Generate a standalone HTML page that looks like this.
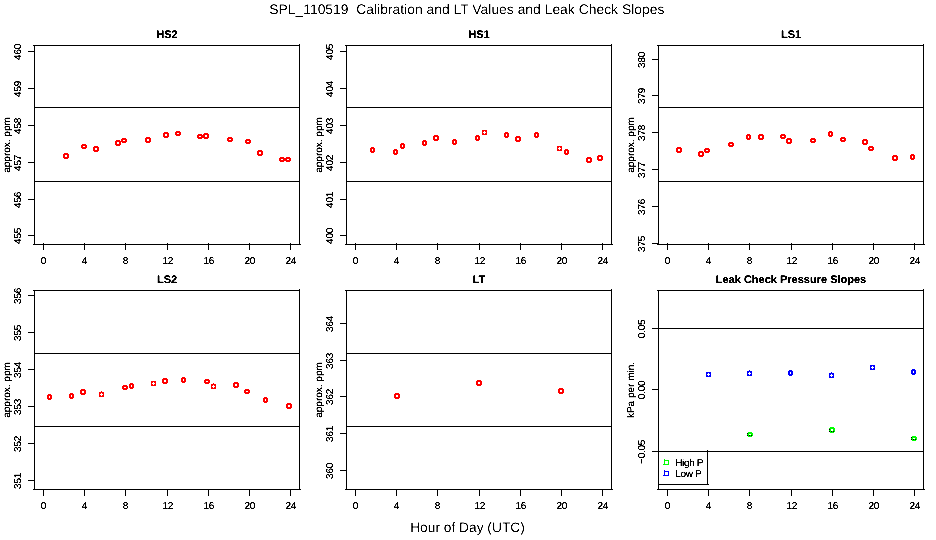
<!DOCTYPE html>
<html><head><meta charset="utf-8"><title>SPL_110519 Calibration</title>
<style>
html,body{margin:0;padding:0;background:#fff;}
body{width:936px;height:540px;overflow:hidden;}
svg{display:block;will-change:transform;text-rendering:geometricPrecision;font-family:"Liberation Sans", sans-serif;fill:#000;}
</style></head><body>
<svg width="936" height="540" viewBox="0 0 936 540">
<defs><filter id="bw" x="0" y="0" width="100%" height="100%" filterUnits="userSpaceOnUse" primitiveUnits="userSpaceOnUse" color-interpolation-filters="sRGB"><feComponentTransfer><feFuncA type="linear" slope="3" intercept="-0.55"/></feComponentTransfer></filter><filter id="bw2" x="0" y="0" width="100%" height="100%" filterUnits="userSpaceOnUse" primitiveUnits="userSpaceOnUse" color-interpolation-filters="sRGB"><feComponentTransfer><feFuncA type="linear" slope="2.6" intercept="-0.85"/></feComponentTransfer></filter></defs>
<rect width="936" height="540" fill="#fff"/>
<g shape-rendering="crispEdges">
<rect x="34.5" y="45.5" width="265" height="199" fill="none" stroke="#000"/>
<rect x="33" y="45" width="1" height="1" fill="#000"/>
<rect x="299" y="44" width="1" height="1" fill="#000"/>
<rect x="300" y="244" width="1" height="1" fill="#000"/>
<rect x="33" y="244" width="1" height="1" fill="#000"/>
<line x1="34" y1="107.5" x2="300" y2="107.5" stroke="#000" stroke-width="1"/>
<line x1="34" y1="181.5" x2="300" y2="181.5" stroke="#000" stroke-width="1"/>
<line x1="28" y1="51.5" x2="34" y2="51.5" stroke="#000" stroke-width="1"/>
<line x1="28" y1="88.5" x2="34" y2="88.5" stroke="#000" stroke-width="1"/>
<line x1="28" y1="125.5" x2="34" y2="125.5" stroke="#000" stroke-width="1"/>
<line x1="28" y1="162.5" x2="34" y2="162.5" stroke="#000" stroke-width="1"/>
<line x1="28" y1="199.5" x2="34" y2="199.5" stroke="#000" stroke-width="1"/>
<line x1="28" y1="235.5" x2="34" y2="235.5" stroke="#000" stroke-width="1"/>
<line x1="43.5" y1="243" x2="43.5" y2="250" stroke="#000" stroke-width="1"/>
<line x1="84.5" y1="243" x2="84.5" y2="250" stroke="#000" stroke-width="1"/>
<line x1="125.5" y1="243" x2="125.5" y2="250" stroke="#000" stroke-width="1"/>
<line x1="167.5" y1="243" x2="167.5" y2="250" stroke="#000" stroke-width="1"/>
<line x1="208.5" y1="243" x2="208.5" y2="250" stroke="#000" stroke-width="1"/>
<line x1="249.5" y1="243" x2="249.5" y2="250" stroke="#000" stroke-width="1"/>
<line x1="290.5" y1="243" x2="290.5" y2="250" stroke="#000" stroke-width="1"/>
<rect x="346.5" y="45.5" width="265" height="199" fill="none" stroke="#000"/>
<rect x="345" y="45" width="1" height="1" fill="#000"/>
<rect x="611" y="44" width="1" height="1" fill="#000"/>
<rect x="612" y="244" width="1" height="1" fill="#000"/>
<rect x="345" y="244" width="1" height="1" fill="#000"/>
<line x1="346" y1="107.5" x2="612" y2="107.5" stroke="#000" stroke-width="1"/>
<line x1="346" y1="181.5" x2="612" y2="181.5" stroke="#000" stroke-width="1"/>
<line x1="340" y1="51.5" x2="346" y2="51.5" stroke="#000" stroke-width="1"/>
<line x1="340" y1="88.5" x2="346" y2="88.5" stroke="#000" stroke-width="1"/>
<line x1="340" y1="125.5" x2="346" y2="125.5" stroke="#000" stroke-width="1"/>
<line x1="340" y1="162.5" x2="346" y2="162.5" stroke="#000" stroke-width="1"/>
<line x1="340" y1="199.5" x2="346" y2="199.5" stroke="#000" stroke-width="1"/>
<line x1="340" y1="235.5" x2="346" y2="235.5" stroke="#000" stroke-width="1"/>
<line x1="355.5" y1="243" x2="355.5" y2="250" stroke="#000" stroke-width="1"/>
<line x1="396.5" y1="243" x2="396.5" y2="250" stroke="#000" stroke-width="1"/>
<line x1="437.5" y1="243" x2="437.5" y2="250" stroke="#000" stroke-width="1"/>
<line x1="479.5" y1="243" x2="479.5" y2="250" stroke="#000" stroke-width="1"/>
<line x1="520.5" y1="243" x2="520.5" y2="250" stroke="#000" stroke-width="1"/>
<line x1="561.5" y1="243" x2="561.5" y2="250" stroke="#000" stroke-width="1"/>
<line x1="602.5" y1="243" x2="602.5" y2="250" stroke="#000" stroke-width="1"/>
<rect x="658.5" y="45.5" width="265" height="199" fill="none" stroke="#000"/>
<rect x="657" y="45" width="1" height="1" fill="#000"/>
<rect x="923" y="44" width="1" height="1" fill="#000"/>
<rect x="924" y="244" width="1" height="1" fill="#000"/>
<rect x="657" y="244" width="1" height="1" fill="#000"/>
<line x1="658" y1="107.5" x2="924" y2="107.5" stroke="#000" stroke-width="1"/>
<line x1="658" y1="181.5" x2="924" y2="181.5" stroke="#000" stroke-width="1"/>
<line x1="652" y1="59.5" x2="658" y2="59.5" stroke="#000" stroke-width="1"/>
<line x1="652" y1="95.5" x2="658" y2="95.5" stroke="#000" stroke-width="1"/>
<line x1="652" y1="132.5" x2="658" y2="132.5" stroke="#000" stroke-width="1"/>
<line x1="652" y1="169.5" x2="658" y2="169.5" stroke="#000" stroke-width="1"/>
<line x1="652" y1="206.5" x2="658" y2="206.5" stroke="#000" stroke-width="1"/>
<line x1="652" y1="243.5" x2="658" y2="243.5" stroke="#000" stroke-width="1"/>
<line x1="667.5" y1="243" x2="667.5" y2="250" stroke="#000" stroke-width="1"/>
<line x1="708.5" y1="243" x2="708.5" y2="250" stroke="#000" stroke-width="1"/>
<line x1="749.5" y1="243" x2="749.5" y2="250" stroke="#000" stroke-width="1"/>
<line x1="791.5" y1="243" x2="791.5" y2="250" stroke="#000" stroke-width="1"/>
<line x1="832.5" y1="243" x2="832.5" y2="250" stroke="#000" stroke-width="1"/>
<line x1="873.5" y1="243" x2="873.5" y2="250" stroke="#000" stroke-width="1"/>
<line x1="914.5" y1="243" x2="914.5" y2="250" stroke="#000" stroke-width="1"/>
<rect x="34.5" y="290.5" width="265" height="199" fill="none" stroke="#000"/>
<rect x="33" y="290" width="1" height="1" fill="#000"/>
<rect x="299" y="289" width="1" height="1" fill="#000"/>
<rect x="300" y="489" width="1" height="1" fill="#000"/>
<rect x="33" y="489" width="1" height="1" fill="#000"/>
<line x1="34" y1="353.5" x2="300" y2="353.5" stroke="#000" stroke-width="1"/>
<line x1="34" y1="426.5" x2="300" y2="426.5" stroke="#000" stroke-width="1"/>
<line x1="28" y1="295.5" x2="34" y2="295.5" stroke="#000" stroke-width="1"/>
<line x1="28" y1="332.5" x2="34" y2="332.5" stroke="#000" stroke-width="1"/>
<line x1="28" y1="369.5" x2="34" y2="369.5" stroke="#000" stroke-width="1"/>
<line x1="28" y1="406.5" x2="34" y2="406.5" stroke="#000" stroke-width="1"/>
<line x1="28" y1="443.5" x2="34" y2="443.5" stroke="#000" stroke-width="1"/>
<line x1="28" y1="480.5" x2="34" y2="480.5" stroke="#000" stroke-width="1"/>
<line x1="43.5" y1="489" x2="43.5" y2="496" stroke="#000" stroke-width="1"/>
<line x1="84.5" y1="489" x2="84.5" y2="496" stroke="#000" stroke-width="1"/>
<line x1="125.5" y1="489" x2="125.5" y2="496" stroke="#000" stroke-width="1"/>
<line x1="167.5" y1="489" x2="167.5" y2="496" stroke="#000" stroke-width="1"/>
<line x1="208.5" y1="489" x2="208.5" y2="496" stroke="#000" stroke-width="1"/>
<line x1="249.5" y1="489" x2="249.5" y2="496" stroke="#000" stroke-width="1"/>
<line x1="290.5" y1="489" x2="290.5" y2="496" stroke="#000" stroke-width="1"/>
<rect x="346.5" y="290.5" width="265" height="199" fill="none" stroke="#000"/>
<rect x="345" y="290" width="1" height="1" fill="#000"/>
<rect x="611" y="289" width="1" height="1" fill="#000"/>
<rect x="612" y="489" width="1" height="1" fill="#000"/>
<rect x="345" y="489" width="1" height="1" fill="#000"/>
<line x1="346" y1="353.5" x2="612" y2="353.5" stroke="#000" stroke-width="1"/>
<line x1="346" y1="426.5" x2="612" y2="426.5" stroke="#000" stroke-width="1"/>
<line x1="340" y1="323.5" x2="346" y2="323.5" stroke="#000" stroke-width="1"/>
<line x1="340" y1="360.5" x2="346" y2="360.5" stroke="#000" stroke-width="1"/>
<line x1="340" y1="396.5" x2="346" y2="396.5" stroke="#000" stroke-width="1"/>
<line x1="340" y1="433.5" x2="346" y2="433.5" stroke="#000" stroke-width="1"/>
<line x1="340" y1="470.5" x2="346" y2="470.5" stroke="#000" stroke-width="1"/>
<line x1="355.5" y1="489" x2="355.5" y2="496" stroke="#000" stroke-width="1"/>
<line x1="396.5" y1="489" x2="396.5" y2="496" stroke="#000" stroke-width="1"/>
<line x1="437.5" y1="489" x2="437.5" y2="496" stroke="#000" stroke-width="1"/>
<line x1="479.5" y1="489" x2="479.5" y2="496" stroke="#000" stroke-width="1"/>
<line x1="520.5" y1="489" x2="520.5" y2="496" stroke="#000" stroke-width="1"/>
<line x1="561.5" y1="489" x2="561.5" y2="496" stroke="#000" stroke-width="1"/>
<line x1="602.5" y1="489" x2="602.5" y2="496" stroke="#000" stroke-width="1"/>
<rect x="658.5" y="290.5" width="265" height="199" fill="none" stroke="#000"/>
<rect x="657" y="290" width="1" height="1" fill="#000"/>
<rect x="923" y="289" width="1" height="1" fill="#000"/>
<rect x="924" y="489" width="1" height="1" fill="#000"/>
<rect x="657" y="489" width="1" height="1" fill="#000"/>
<line x1="658" y1="328.5" x2="924" y2="328.5" stroke="#000" stroke-width="1"/>
<line x1="658" y1="451.5" x2="924" y2="451.5" stroke="#000" stroke-width="1"/>
<line x1="652" y1="328.5" x2="658" y2="328.5" stroke="#000" stroke-width="1"/>
<line x1="652" y1="389.5" x2="658" y2="389.5" stroke="#000" stroke-width="1"/>
<line x1="652" y1="451.5" x2="658" y2="451.5" stroke="#000" stroke-width="1"/>
<line x1="667.5" y1="489" x2="667.5" y2="496" stroke="#000" stroke-width="1"/>
<line x1="708.5" y1="489" x2="708.5" y2="496" stroke="#000" stroke-width="1"/>
<line x1="749.5" y1="489" x2="749.5" y2="496" stroke="#000" stroke-width="1"/>
<line x1="791.5" y1="489" x2="791.5" y2="496" stroke="#000" stroke-width="1"/>
<line x1="832.5" y1="489" x2="832.5" y2="496" stroke="#000" stroke-width="1"/>
<line x1="873.5" y1="489" x2="873.5" y2="496" stroke="#000" stroke-width="1"/>
<line x1="914.5" y1="489" x2="914.5" y2="496" stroke="#000" stroke-width="1"/>
</g>
<ellipse cx="66" cy="156" rx="2" ry="2" fill="none" stroke="#ff0000" stroke-width="2" shape-rendering="crispEdges"/>
<ellipse cx="84" cy="146.5" rx="2" ry="1.5" fill="none" stroke="#ff0000" stroke-width="2" shape-rendering="crispEdges"/>
<ellipse cx="96" cy="149" rx="2" ry="2" fill="none" stroke="#ff0000" stroke-width="2" shape-rendering="crispEdges"/>
<ellipse cx="118" cy="143" rx="2" ry="2" fill="none" stroke="#ff0000" stroke-width="2" shape-rendering="crispEdges"/>
<ellipse cx="124" cy="140.5" rx="2" ry="1.5" fill="none" stroke="#ff0000" stroke-width="2" shape-rendering="crispEdges"/>
<ellipse cx="148" cy="140" rx="2" ry="2" fill="none" stroke="#ff0000" stroke-width="2" shape-rendering="crispEdges"/>
<ellipse cx="166" cy="135" rx="2" ry="2" fill="none" stroke="#ff0000" stroke-width="2" shape-rendering="crispEdges"/>
<ellipse cx="178" cy="133.5" rx="2" ry="1.5" fill="none" stroke="#ff0000" stroke-width="2" shape-rendering="crispEdges"/>
<ellipse cx="200" cy="136.5" rx="2" ry="1.5" fill="none" stroke="#ff0000" stroke-width="2" shape-rendering="crispEdges"/>
<ellipse cx="206" cy="136" rx="2" ry="2" fill="none" stroke="#ff0000" stroke-width="2" shape-rendering="crispEdges"/>
<ellipse cx="230" cy="139.5" rx="2" ry="1.5" fill="none" stroke="#ff0000" stroke-width="2" shape-rendering="crispEdges"/>
<ellipse cx="248" cy="141.5" rx="2" ry="1.5" fill="none" stroke="#ff0000" stroke-width="2" shape-rendering="crispEdges"/>
<ellipse cx="260" cy="153" rx="2" ry="2" fill="none" stroke="#ff0000" stroke-width="2" shape-rendering="crispEdges"/>
<ellipse cx="282" cy="159.5" rx="2" ry="1.5" fill="none" stroke="#ff0000" stroke-width="2" shape-rendering="crispEdges"/>
<ellipse cx="288" cy="159.5" rx="2" ry="1.5" fill="none" stroke="#ff0000" stroke-width="2" shape-rendering="crispEdges"/>
<ellipse cx="372.5" cy="150" rx="1.5" ry="2" fill="none" stroke="#ff0000" stroke-width="2" shape-rendering="crispEdges"/>
<ellipse cx="395.5" cy="152" rx="1.5" ry="2" fill="none" stroke="#ff0000" stroke-width="2" shape-rendering="crispEdges"/>
<ellipse cx="402.5" cy="146" rx="1.5" ry="2" fill="none" stroke="#ff0000" stroke-width="2" shape-rendering="crispEdges"/>
<ellipse cx="424.5" cy="143" rx="1.5" ry="2" fill="none" stroke="#ff0000" stroke-width="2" shape-rendering="crispEdges"/>
<ellipse cx="436" cy="138" rx="2" ry="2" fill="none" stroke="#ff0000" stroke-width="2" shape-rendering="crispEdges"/>
<ellipse cx="454.5" cy="142" rx="1.5" ry="2" fill="none" stroke="#ff0000" stroke-width="2" shape-rendering="crispEdges"/>
<ellipse cx="477.5" cy="138" rx="1.5" ry="2" fill="none" stroke="#ff0000" stroke-width="2" shape-rendering="crispEdges"/>
<path d="M482 130h5v5h-5z M484 131v1h-1v1h1v1h1v-1h1v-1h-1v-1z" fill-rule="evenodd" fill="#ff0000" shape-rendering="crispEdges"/>
<ellipse cx="506.5" cy="135" rx="1.5" ry="2" fill="none" stroke="#ff0000" stroke-width="2" shape-rendering="crispEdges"/>
<ellipse cx="518" cy="139" rx="2" ry="2" fill="none" stroke="#ff0000" stroke-width="2" shape-rendering="crispEdges"/>
<ellipse cx="536.5" cy="135" rx="1.5" ry="2" fill="none" stroke="#ff0000" stroke-width="2" shape-rendering="crispEdges"/>
<path d="M557 146h5v5h-5z M559 147v1h-1v1h1v1h1v-1h1v-1h-1v-1z" fill-rule="evenodd" fill="#ff0000" shape-rendering="crispEdges"/>
<ellipse cx="566.5" cy="152" rx="1.5" ry="2" fill="none" stroke="#ff0000" stroke-width="2" shape-rendering="crispEdges"/>
<ellipse cx="589" cy="160" rx="2" ry="2" fill="none" stroke="#ff0000" stroke-width="2" shape-rendering="crispEdges"/>
<ellipse cx="600" cy="158" rx="2" ry="2" fill="none" stroke="#ff0000" stroke-width="2" shape-rendering="crispEdges"/>
<ellipse cx="679" cy="150" rx="2" ry="2" fill="none" stroke="#ff0000" stroke-width="2" shape-rendering="crispEdges"/>
<ellipse cx="701" cy="154" rx="2" ry="2" fill="none" stroke="#ff0000" stroke-width="2" shape-rendering="crispEdges"/>
<ellipse cx="707" cy="150.5" rx="2" ry="1.5" fill="none" stroke="#ff0000" stroke-width="2" shape-rendering="crispEdges"/>
<ellipse cx="731" cy="144.5" rx="2" ry="1.5" fill="none" stroke="#ff0000" stroke-width="2" shape-rendering="crispEdges"/>
<ellipse cx="748.5" cy="137" rx="1.5" ry="2" fill="none" stroke="#ff0000" stroke-width="2" shape-rendering="crispEdges"/>
<ellipse cx="761" cy="137" rx="2" ry="2" fill="none" stroke="#ff0000" stroke-width="2" shape-rendering="crispEdges"/>
<ellipse cx="783" cy="136.5" rx="2" ry="1.5" fill="none" stroke="#ff0000" stroke-width="2" shape-rendering="crispEdges"/>
<ellipse cx="789" cy="141" rx="2" ry="2" fill="none" stroke="#ff0000" stroke-width="2" shape-rendering="crispEdges"/>
<ellipse cx="813" cy="140.5" rx="2" ry="1.5" fill="none" stroke="#ff0000" stroke-width="2" shape-rendering="crispEdges"/>
<ellipse cx="830.5" cy="134" rx="1.5" ry="2" fill="none" stroke="#ff0000" stroke-width="2" shape-rendering="crispEdges"/>
<ellipse cx="843" cy="139.5" rx="2" ry="1.5" fill="none" stroke="#ff0000" stroke-width="2" shape-rendering="crispEdges"/>
<ellipse cx="865" cy="142" rx="2" ry="2" fill="none" stroke="#ff0000" stroke-width="2" shape-rendering="crispEdges"/>
<ellipse cx="871" cy="148.5" rx="2" ry="1.5" fill="none" stroke="#ff0000" stroke-width="2" shape-rendering="crispEdges"/>
<ellipse cx="895" cy="158" rx="2" ry="2" fill="none" stroke="#ff0000" stroke-width="2" shape-rendering="crispEdges"/>
<ellipse cx="912.5" cy="157" rx="1.5" ry="2" fill="none" stroke="#ff0000" stroke-width="2" shape-rendering="crispEdges"/>
<ellipse cx="49.5" cy="397" rx="1.5" ry="2" fill="none" stroke="#ff0000" stroke-width="2" shape-rendering="crispEdges"/>
<ellipse cx="71.5" cy="396" rx="1.5" ry="2" fill="none" stroke="#ff0000" stroke-width="2" shape-rendering="crispEdges"/>
<ellipse cx="83" cy="392" rx="2" ry="2" fill="none" stroke="#ff0000" stroke-width="2" shape-rendering="crispEdges"/>
<path d="M99 392h5v5h-5z M101 393v1h-1v1h1v1h1v-1h1v-1h-1v-1z" fill-rule="evenodd" fill="#ff0000" shape-rendering="crispEdges"/>
<ellipse cx="125" cy="387.5" rx="2" ry="1.5" fill="none" stroke="#ff0000" stroke-width="2" shape-rendering="crispEdges"/>
<ellipse cx="131.5" cy="386" rx="1.5" ry="2" fill="none" stroke="#ff0000" stroke-width="2" shape-rendering="crispEdges"/>
<path d="M151 381h5v5h-5z M153 382v1h-1v1h1v1h1v-1h1v-1h-1v-1z" fill-rule="evenodd" fill="#ff0000" shape-rendering="crispEdges"/>
<ellipse cx="165" cy="381" rx="2" ry="2" fill="none" stroke="#ff0000" stroke-width="2" shape-rendering="crispEdges"/>
<ellipse cx="183.5" cy="380" rx="1.5" ry="2" fill="none" stroke="#ff0000" stroke-width="2" shape-rendering="crispEdges"/>
<ellipse cx="207" cy="381.5" rx="2" ry="1.5" fill="none" stroke="#ff0000" stroke-width="2" shape-rendering="crispEdges"/>
<path d="M211 384h5v5h-5z M213 385v1h-1v1h1v1h1v-1h1v-1h-1v-1z" fill-rule="evenodd" fill="#ff0000" shape-rendering="crispEdges"/>
<ellipse cx="236" cy="385" rx="2" ry="2" fill="none" stroke="#ff0000" stroke-width="2" shape-rendering="crispEdges"/>
<ellipse cx="247" cy="391.5" rx="2" ry="1.5" fill="none" stroke="#ff0000" stroke-width="2" shape-rendering="crispEdges"/>
<ellipse cx="265.5" cy="400" rx="1.5" ry="2" fill="none" stroke="#ff0000" stroke-width="2" shape-rendering="crispEdges"/>
<ellipse cx="289" cy="406" rx="2" ry="2" fill="none" stroke="#ff0000" stroke-width="2" shape-rendering="crispEdges"/>
<ellipse cx="397" cy="396" rx="2" ry="2" fill="none" stroke="#ff0000" stroke-width="2" shape-rendering="crispEdges"/>
<ellipse cx="479" cy="383" rx="2" ry="2" fill="none" stroke="#ff0000" stroke-width="2" shape-rendering="crispEdges"/>
<ellipse cx="561" cy="391" rx="2" ry="2" fill="none" stroke="#ff0000" stroke-width="2" shape-rendering="crispEdges"/>
<rect x="101" y="391" width="1" height="1" fill="#ff0000" shape-rendering="crispEdges"/>
<rect x="213" y="383" width="1" height="1" fill="#ff0000" shape-rendering="crispEdges"/>
<path d="M706 372h5v5h-5z M708 373v1h-1v1h1v1h1v-1h1v-1h-1v-1z" fill-rule="evenodd" fill="#0000ff" shape-rendering="crispEdges"/>
<path d="M747 371h5v5h-5z M749 372v1h-1v1h1v1h1v-1h1v-1h-1v-1z" fill-rule="evenodd" fill="#0000ff" shape-rendering="crispEdges"/>
<ellipse cx="790.5" cy="373" rx="1.5" ry="2" fill="none" stroke="#0000ff" stroke-width="2" shape-rendering="crispEdges"/>
<path d="M829 373h5v5h-5z M831 374v1h-1v1h1v1h1v-1h1v-1h-1v-1z" fill-rule="evenodd" fill="#0000ff" shape-rendering="crispEdges"/>
<path d="M870 365h5v5h-5z M872 366v1h-1v1h1v1h1v-1h1v-1h-1v-1z" fill-rule="evenodd" fill="#0000ff" shape-rendering="crispEdges"/>
<ellipse cx="913.5" cy="372" rx="1.5" ry="2" fill="none" stroke="#0000ff" stroke-width="2" shape-rendering="crispEdges"/>
<rect x="749" y="370" width="1" height="1" fill="#0000ff" shape-rendering="crispEdges"/>
<rect x="831" y="372" width="1" height="1" fill="#0000ff" shape-rendering="crispEdges"/>
<ellipse cx="750" cy="434.5" rx="2" ry="1.5" fill="none" stroke="#00ff00" stroke-width="2" shape-rendering="crispEdges"/>
<rect x="747" y="433" width="1" height="1" fill="#000" shape-rendering="crispEdges"/>
<rect x="747" y="435" width="1" height="1" fill="#000" shape-rendering="crispEdges"/>
<rect x="751" y="435" width="1" height="1" fill="#000" shape-rendering="crispEdges"/>
<rect x="749" y="435" width="1" height="1" fill="#000" shape-rendering="crispEdges"/>
<ellipse cx="832" cy="430" rx="2" ry="2" fill="none" stroke="#00ff00" stroke-width="2" shape-rendering="crispEdges"/>
<rect x="829" y="429" width="1" height="1" fill="#000" shape-rendering="crispEdges"/>
<rect x="829" y="431" width="1" height="1" fill="#000" shape-rendering="crispEdges"/>
<rect x="833" y="431" width="1" height="1" fill="#000" shape-rendering="crispEdges"/>
<rect x="831" y="431" width="1" height="1" fill="#000" shape-rendering="crispEdges"/>
<ellipse cx="914" cy="438.5" rx="2" ry="1.5" fill="none" stroke="#00ff00" stroke-width="2" shape-rendering="crispEdges"/>
<rect x="911" y="437" width="1" height="1" fill="#000" shape-rendering="crispEdges"/>
<rect x="911" y="439" width="1" height="1" fill="#000" shape-rendering="crispEdges"/>
<rect x="915" y="439" width="1" height="1" fill="#000" shape-rendering="crispEdges"/>
<rect x="913" y="439" width="1" height="1" fill="#000" shape-rendering="crispEdges"/>
<g shape-rendering="crispEdges">
<line x1="707.5" y1="450" x2="707.5" y2="485" stroke="#000" stroke-width="1"/>
<line x1="658" y1="484.5" x2="709" y2="484.5" stroke="#000" stroke-width="1"/>
<rect x="664.5" y="460.5" width="4" height="4" fill="none" stroke="#00ff00"/>
<rect x="664.5" y="471.5" width="4" height="4" fill="none" stroke="#0000ff"/>
<rect x="664" y="459" width="1" height="1" fill="#00ff00"/><rect x="663" y="464" width="1" height="1" fill="#00ff00"/>
<rect x="664" y="470" width="1" height="1" fill="#0000ff"/><rect x="663" y="475" width="1" height="1" fill="#0000ff"/>
</g>
<g filter="url(#bw)">
<text x="167.0" y="37.6" font-size="11" text-anchor="middle" font-weight="bold">HS2</text>
<text x="21.1" y="51.9" font-size="10" text-anchor="middle" transform="rotate(-90 21.1 51.9)" letter-spacing="-0.25">460</text>
<text x="21.1" y="88.9" font-size="10" text-anchor="middle" transform="rotate(-90 21.1 88.9)" letter-spacing="-0.25">459</text>
<text x="21.1" y="125.9" font-size="10" text-anchor="middle" transform="rotate(-90 21.1 125.9)" letter-spacing="-0.25">458</text>
<text x="21.1" y="162.9" font-size="10" text-anchor="middle" transform="rotate(-90 21.1 162.9)" letter-spacing="-0.25">457</text>
<text x="21.1" y="199.9" font-size="10" text-anchor="middle" transform="rotate(-90 21.1 199.9)" letter-spacing="-0.25">456</text>
<text x="21.1" y="235.9" font-size="10" text-anchor="middle" transform="rotate(-90 21.1 235.9)" letter-spacing="-0.25">455</text>
<text x="10" y="145.0" font-size="10" text-anchor="middle" transform="rotate(-90 10 145.0)">approx. ppm</text>
<text x="43.5" y="264.1" font-size="10" text-anchor="middle">0</text>
<text x="84.5" y="264.1" font-size="10" text-anchor="middle">4</text>
<text x="125.5" y="264.1" font-size="10" text-anchor="middle">8</text>
<text x="167.7" y="264.1" font-size="10" text-anchor="middle" letter-spacing="-0.4">12</text>
<text x="208.7" y="264.1" font-size="10" text-anchor="middle" letter-spacing="-0.4">16</text>
<text x="249.7" y="264.1" font-size="10" text-anchor="middle" letter-spacing="-0.4">20</text>
<text x="290.7" y="264.1" font-size="10" text-anchor="middle" letter-spacing="-0.4">24</text>
<text x="479.0" y="37.6" font-size="11" text-anchor="middle" font-weight="bold">HS1</text>
<text x="333.1" y="51.9" font-size="10" text-anchor="middle" transform="rotate(-90 333.1 51.9)" letter-spacing="-0.25">405</text>
<text x="333.1" y="88.9" font-size="10" text-anchor="middle" transform="rotate(-90 333.1 88.9)" letter-spacing="-0.25">404</text>
<text x="333.1" y="125.9" font-size="10" text-anchor="middle" transform="rotate(-90 333.1 125.9)" letter-spacing="-0.25">403</text>
<text x="333.1" y="162.9" font-size="10" text-anchor="middle" transform="rotate(-90 333.1 162.9)" letter-spacing="-0.25">402</text>
<text x="333.1" y="199.9" font-size="10" text-anchor="middle" transform="rotate(-90 333.1 199.9)" letter-spacing="-0.25">401</text>
<text x="333.1" y="235.9" font-size="10" text-anchor="middle" transform="rotate(-90 333.1 235.9)" letter-spacing="-0.25">400</text>
<text x="322" y="145.0" font-size="10" text-anchor="middle" transform="rotate(-90 322 145.0)">approx. ppm</text>
<text x="355.5" y="264.1" font-size="10" text-anchor="middle">0</text>
<text x="396.5" y="264.1" font-size="10" text-anchor="middle">4</text>
<text x="437.5" y="264.1" font-size="10" text-anchor="middle">8</text>
<text x="479.7" y="264.1" font-size="10" text-anchor="middle" letter-spacing="-0.4">12</text>
<text x="520.7" y="264.1" font-size="10" text-anchor="middle" letter-spacing="-0.4">16</text>
<text x="561.7" y="264.1" font-size="10" text-anchor="middle" letter-spacing="-0.4">20</text>
<text x="602.7" y="264.1" font-size="10" text-anchor="middle" letter-spacing="-0.4">24</text>
<text x="791.0" y="37.6" font-size="11" text-anchor="middle" font-weight="bold">LS1</text>
<text x="645.1" y="59.9" font-size="10" text-anchor="middle" transform="rotate(-90 645.1 59.9)" letter-spacing="-0.25">380</text>
<text x="645.1" y="95.9" font-size="10" text-anchor="middle" transform="rotate(-90 645.1 95.9)" letter-spacing="-0.25">379</text>
<text x="645.1" y="132.9" font-size="10" text-anchor="middle" transform="rotate(-90 645.1 132.9)" letter-spacing="-0.25">378</text>
<text x="645.1" y="169.9" font-size="10" text-anchor="middle" transform="rotate(-90 645.1 169.9)" letter-spacing="-0.25">377</text>
<text x="645.1" y="206.9" font-size="10" text-anchor="middle" transform="rotate(-90 645.1 206.9)" letter-spacing="-0.25">376</text>
<text x="645.1" y="243.9" font-size="10" text-anchor="middle" transform="rotate(-90 645.1 243.9)" letter-spacing="-0.25">375</text>
<text x="634" y="145.0" font-size="10" text-anchor="middle" transform="rotate(-90 634 145.0)">approx. ppm</text>
<text x="667.5" y="264.1" font-size="10" text-anchor="middle">0</text>
<text x="708.5" y="264.1" font-size="10" text-anchor="middle">4</text>
<text x="749.5" y="264.1" font-size="10" text-anchor="middle">8</text>
<text x="791.7" y="264.1" font-size="10" text-anchor="middle" letter-spacing="-0.4">12</text>
<text x="832.7" y="264.1" font-size="10" text-anchor="middle" letter-spacing="-0.4">16</text>
<text x="873.7" y="264.1" font-size="10" text-anchor="middle" letter-spacing="-0.4">20</text>
<text x="914.7" y="264.1" font-size="10" text-anchor="middle" letter-spacing="-0.4">24</text>
<text x="167.0" y="282.6" font-size="11" text-anchor="middle" font-weight="bold">LS2</text>
<text x="21.1" y="295.9" font-size="10" text-anchor="middle" transform="rotate(-90 21.1 295.9)" letter-spacing="-0.25">356</text>
<text x="21.1" y="332.9" font-size="10" text-anchor="middle" transform="rotate(-90 21.1 332.9)" letter-spacing="-0.25">355</text>
<text x="21.1" y="369.9" font-size="10" text-anchor="middle" transform="rotate(-90 21.1 369.9)" letter-spacing="-0.25">354</text>
<text x="21.1" y="406.9" font-size="10" text-anchor="middle" transform="rotate(-90 21.1 406.9)" letter-spacing="-0.25">353</text>
<text x="21.1" y="443.9" font-size="10" text-anchor="middle" transform="rotate(-90 21.1 443.9)" letter-spacing="-0.25">352</text>
<text x="21.1" y="480.9" font-size="10" text-anchor="middle" transform="rotate(-90 21.1 480.9)" letter-spacing="-0.25">351</text>
<text x="10" y="390.0" font-size="10" text-anchor="middle" transform="rotate(-90 10 390.0)">approx. ppm</text>
<text x="43.5" y="509.1" font-size="10" text-anchor="middle">0</text>
<text x="84.5" y="509.1" font-size="10" text-anchor="middle">4</text>
<text x="125.5" y="509.1" font-size="10" text-anchor="middle">8</text>
<text x="167.7" y="509.1" font-size="10" text-anchor="middle" letter-spacing="-0.4">12</text>
<text x="208.7" y="509.1" font-size="10" text-anchor="middle" letter-spacing="-0.4">16</text>
<text x="249.7" y="509.1" font-size="10" text-anchor="middle" letter-spacing="-0.4">20</text>
<text x="290.7" y="509.1" font-size="10" text-anchor="middle" letter-spacing="-0.4">24</text>
<text x="479.0" y="282.6" font-size="11" text-anchor="middle" font-weight="bold">LT</text>
<text x="333.1" y="323.9" font-size="10" text-anchor="middle" transform="rotate(-90 333.1 323.9)" letter-spacing="-0.25">364</text>
<text x="333.1" y="360.9" font-size="10" text-anchor="middle" transform="rotate(-90 333.1 360.9)" letter-spacing="-0.25">363</text>
<text x="333.1" y="396.9" font-size="10" text-anchor="middle" transform="rotate(-90 333.1 396.9)" letter-spacing="-0.25">362</text>
<text x="333.1" y="433.9" font-size="10" text-anchor="middle" transform="rotate(-90 333.1 433.9)" letter-spacing="-0.25">361</text>
<text x="333.1" y="470.9" font-size="10" text-anchor="middle" transform="rotate(-90 333.1 470.9)" letter-spacing="-0.25">360</text>
<text x="322" y="390.0" font-size="10" text-anchor="middle" transform="rotate(-90 322 390.0)">approx. ppm</text>
<text x="355.5" y="509.1" font-size="10" text-anchor="middle">0</text>
<text x="396.5" y="509.1" font-size="10" text-anchor="middle">4</text>
<text x="437.5" y="509.1" font-size="10" text-anchor="middle">8</text>
<text x="479.7" y="509.1" font-size="10" text-anchor="middle" letter-spacing="-0.4">12</text>
<text x="520.7" y="509.1" font-size="10" text-anchor="middle" letter-spacing="-0.4">16</text>
<text x="561.7" y="509.1" font-size="10" text-anchor="middle" letter-spacing="-0.4">20</text>
<text x="602.7" y="509.1" font-size="10" text-anchor="middle" letter-spacing="-0.4">24</text>
<text x="791.0" y="282.6" font-size="11" text-anchor="middle" font-weight="bold">Leak Check Pressure Slopes</text>
<text x="645.1" y="328.9" font-size="10" text-anchor="middle" transform="rotate(-90 645.1 328.9)" letter-spacing="-0.25">0.05</text>
<text x="645.1" y="389.9" font-size="10" text-anchor="middle" transform="rotate(-90 645.1 389.9)" letter-spacing="-0.25">0.00</text>
<text x="645.1" y="451.9" font-size="10" text-anchor="middle" transform="rotate(-90 645.1 451.9)" letter-spacing="-0.25">−0.05</text>
<text x="634" y="390.0" font-size="10" text-anchor="middle" transform="rotate(-90 634 390.0)">kPa per min.</text>
<text x="667.5" y="509.1" font-size="10" text-anchor="middle">0</text>
<text x="708.5" y="509.1" font-size="10" text-anchor="middle">4</text>
<text x="749.5" y="509.1" font-size="10" text-anchor="middle">8</text>
<text x="791.7" y="509.1" font-size="10" text-anchor="middle" letter-spacing="-0.4">12</text>
<text x="832.7" y="509.1" font-size="10" text-anchor="middle" letter-spacing="-0.4">16</text>
<text x="873.7" y="509.1" font-size="10" text-anchor="middle" letter-spacing="-0.4">20</text>
<text x="914.7" y="509.1" font-size="10" text-anchor="middle" letter-spacing="-0.4">24</text>
<text x="675.2" y="466.1" font-size="10" text-anchor="start" letter-spacing="-0.35">High P</text>
<text x="675.2" y="477.1" font-size="10" text-anchor="start" letter-spacing="-0.3">Low P</text>
</g>
<g filter="url(#bw2)">
<text x="466.8" y="13.7" font-size="13.9" text-anchor="middle" id="mt">SPL_110519&#160;&#160;Calibration and LT Values and Leak Check Slopes</text>
<text x="467.5" y="531.5" font-size="13.75" text-anchor="middle" id="xl">Hour of Day (UTC)</text>
</g>
</svg>
</body></html>
